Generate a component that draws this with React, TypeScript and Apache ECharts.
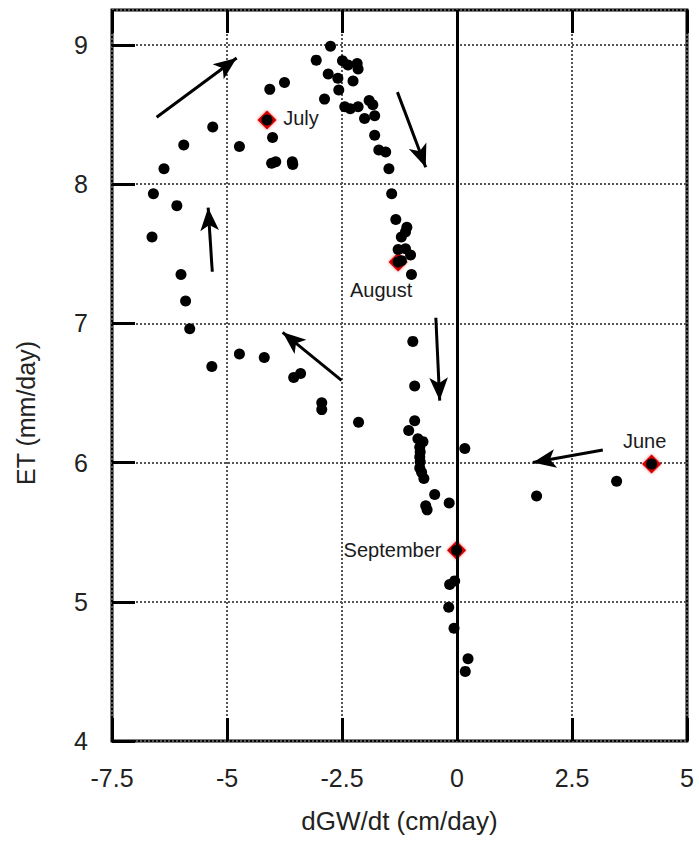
import React, { useEffect, useRef } from "react";
import * as echarts from "echarts";

const dgw = [
  -6.6, -6.63, -6.37, -5.94, -5.31, -6.09, -6.0, -5.9, -5.81, -5.33, -4.73, -4.19, -3.55, -3.4, -2.94, -2.94, -2.14,
  -4.73, -4.07, -3.75, -4.13, -4.01, -4.03, -3.94, -3.58, -3.57,
  -2.75, -3.06, -2.8, -2.88, -2.59, -2.57, -2.49, -2.37, -2.17, -2.15, -2.26, -2.44, -2.32, -2.15, -1.91, -1.83, -1.79, -2.01, -1.79, -1.7, -1.55, -1.48, -1.42,
  -1.33, -1.09, -1.12, -1.21, -1.28, -1.12, -1.01, -1.21, -1.28, -0.99, -0.96, -0.92, -0.92, -1.05,
  -0.85, -0.74, -0.81, -0.8, -0.81, -0.8, -0.81, -0.77, -0.72, -0.485, -0.68, -0.65, -0.17, 0.17,
  -0.01, -0.16, -0.05, -0.18, -0.065, 0.24, 0.18, 1.73, 3.47, 4.23,
];
const et = [
  7.93, 7.62, 8.11, 8.28, 8.41, 7.845, 7.35, 7.16, 6.96, 6.69, 6.78, 6.755, 6.61, 6.64, 6.43, 6.38, 6.29,
  8.27, 8.68, 8.73, 8.46, 8.335, 8.15, 8.16, 8.16, 8.14,
  8.99, 8.89, 8.79, 8.61, 8.76, 8.675, 8.885, 8.855, 8.866, 8.826, 8.74, 8.555, 8.54, 8.555, 8.6, 8.57, 8.49, 8.47, 8.35, 8.245, 8.23, 8.11, 7.93,
  7.745, 7.69, 7.655, 7.62, 7.53, 7.535, 7.49, 7.45, 7.44, 7.35, 6.87, 6.55, 6.3, 6.23,
  6.17, 6.15, 6.11, 6.075, 6.04, 6.005, 5.96, 5.93, 5.885, 5.77, 5.69, 5.66, 5.71, 6.1,
  5.37, 5.124, 5.15, 4.96, 4.81, 4.59, 4.5, 5.76, 5.865, 5.99,
];

const months = ["June", "July", "August", "September"];
const monthX = [4.23, -4.13, -1.28, -0.01];
const monthY = [5.99, 8.46, 7.44, 5.37];

const arrowFromX = [-6.53, -1.295, -5.32, -2.51, -0.46, 3.17];
const arrowFromY = [8.48, 8.66, 7.37, 6.59, 7.04, 6.09];
const arrowToX = [-4.79, -0.68, -5.41, -3.79, -0.376, 1.65];
const arrowToY = [8.905, 8.12, 7.83, 6.935, 6.445, 6.0];

const xTicks = ["-7.5", "-5", "-2.5", "0", "2.5", "5"];
const yTicks = ["4", "5", "6", "7", "8", "9"];

const xTitle = "dGW/dt (cm/day)";
const yTitle = "ET (mm/day)";

const FONT = "'Liberation Sans', Arial, Helvetica, sans-serif";

const labelOffsets: Record<string, number[]> = {
  June: [-7, -23],
  July: [34, -2],
  August: [-17, 28],
  September: [-64, 0],
};

export default function App() {
  const ref = useRef<HTMLDivElement>(null);
  useEffect(() => {
    if (!ref.current) return;
    const chart = echarts.init(ref.current, undefined, { renderer: "svg" });
    const xMin = Number(xTicks[0]);
    const xMax = Number(xTicks[xTicks.length - 1]);
    const yMin = Number(yTicks[0]);
    const gridStyle = { show: true, lineStyle: { color: "#555", width: 2, type: [2, 2] as any } };
    const tick = { show: true, inside: true, length: 23, lineStyle: { color: "#000", width: 3 } };
    chart.setOption({
      animation: false,
      backgroundColor: "#fff",
      grid: {
        left: 112,
        right: 12,
        top: 10,
        bottom: 107,
        show: true,
        borderColor: "#000",
        borderWidth: 3,
        containLabel: false,
      },
      graphic: [
        {
          type: "text",
          x: 26,
          y: 413,
          rotation: Math.PI / 2,
          style: {
            text: yTitle,
            fontFamily: FONT,
            fontSize: 25,
            fill: "#222",
            align: "center",
            verticalAlign: "middle",
          },
        },
      ],
      xAxis: [
        {
          type: "value",
          min: xMin,
          max: xMax,
          interval: 2.5,
          position: "bottom",
          name: xTitle,
          nameLocation: "middle",
          nameGap: 67,
          nameTextStyle: { fontFamily: FONT, fontSize: 26, color: "#222" },
          axisLine: { show: false, onZero: false },
          axisTick: tick,
          axisLabel: {
            fontFamily: FONT,
            fontSize: 25,
            color: "#222",
            margin: 24,
            formatter: (v: number) => String(v),
          },
          splitLine: gridStyle,
        },
        {
          type: "value",
          min: xMin,
          max: xMax,
          interval: 2.5,
          position: "top",
          axisLine: { show: false, onZero: false },
          axisTick: tick,
          axisLabel: { show: false },
          splitLine: { show: false },
        },
      ],
      yAxis: {
        type: "value",
        min: yMin,
        max: 9.25,
        interval: 1,
        position: "left",
        axisLine: { show: false, onZero: false },
        axisTick: tick,
        axisLabel: {
          fontFamily: FONT,
          fontSize: 25,
          color: "#222",
          margin: 24,
          showMaxLabel: false,
          formatter: (v: number) => (Number.isInteger(v) ? String(v) : ""),
        },
        splitLine: gridStyle,
      },
      series: [
        {
          type: "scatter",
          z: 1,
          data: [],
          markLine: {
            silent: true,
            symbol: ["none", "none"],
            label: { show: false },
            lineStyle: { color: "#000", width: 3, type: "solid", opacity: 1 },
            data: [{ xAxis: 0 }],
          },
        },
        {
          type: "scatter",
          z: 2,
          data: [],
          markLine: {
            silent: true,
            symbol: ["none", "arrow"],
            symbolSize: [14, 23],
            label: { show: false },
            lineStyle: { color: "#000", width: 3, type: "solid", opacity: 1 },
            itemStyle: { color: "#000" },
            data: arrowFromX.map((x, i) => [
              { coord: [x, arrowFromY[i]] },
              { coord: [arrowToX[i], arrowToY[i]] },
            ]),
          },
        },
        {
          type: "scatter",
          z: 3,
          symbol: "diamond",
          symbolSize: 19,
          itemStyle: { color: "#d40000", opacity: 1, shadowBlur: 3, shadowColor: "rgba(220,0,0,0.6)" },
          data: months.map((m, i) => ({
            name: m,
            value: [monthX[i], monthY[i]],
            label: {
              show: true,
              position: "inside",
              formatter: m,
              offset: labelOffsets[m],
              fontFamily: FONT,
              fontSize: 20,
              color: "#1a1a1a",
            },
          })),
        },
        {
          type: "scatter",
          z: 4,
          symbol: "circle",
          symbolSize: 11,
          itemStyle: { color: "#000", opacity: 1 },
          data: dgw.map((x, i) => [x, et[i]]),
        },
      ],
    });
    return () => chart.dispose();
  }, []);
  return (
    <div
      ref={ref}
      style={{ position: "fixed", left: 0, top: 0, width: 699, height: 848, background: "#fff" }}
    />
  );
}
